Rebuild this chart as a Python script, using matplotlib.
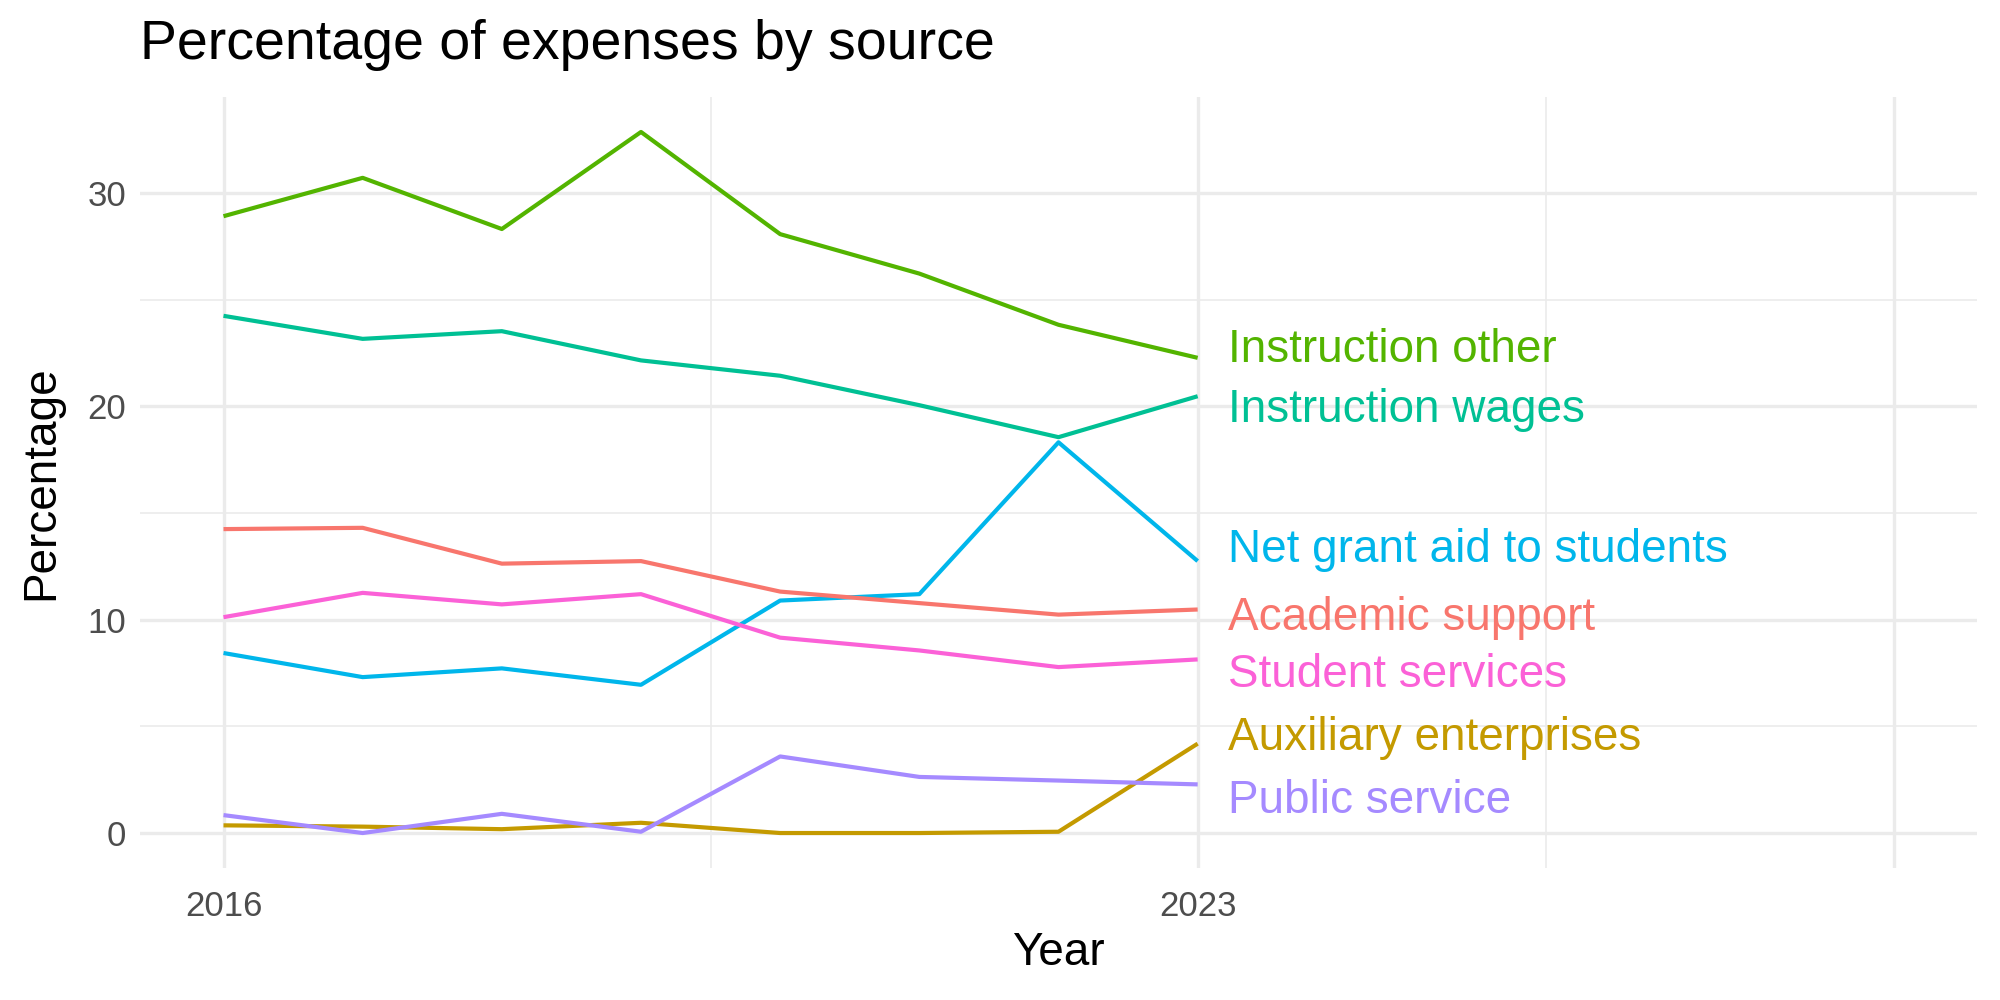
import matplotlib
matplotlib.use("Agg")
import matplotlib.pyplot as plt

years = [2016, 2017, 2018, 2019, 2020, 2021, 2022, 2023]
series_names = ["Instruction other", "Instruction wages", "Net grant aid to students",
                "Academic support", "Student services", "Auxiliary enterprises", "Public service"]
instruction_other = [28.92, 30.72, 28.32, 32.87, 28.08, 26.23, 23.83, 22.28]
instruction_wages = [24.25, 23.17, 23.53, 22.16, 21.44, 20.06, 18.56, 20.48]
net_grant_aid = [8.44, 7.31, 7.72, 6.95, 10.90, 11.20, 18.32, 12.75]
academic_support = [14.25, 14.31, 12.63, 12.75, 11.32, 10.78, 10.24, 10.48]
student_services = [10.12, 11.26, 10.72, 11.20, 9.16, 8.56, 7.78, 8.14]
auxiliary_enterprises = [0.36, 0.30, 0.18, 0.48, 0.00, 0.00, 0.06, 4.19]
public_service = [0.84, 0.00, 0.90, 0.06, 3.59, 2.63, 2.46, 2.28]
label_y = [22.07, 19.25, 12.72, 9.53, 6.85, 3.90, 0.94]
x_ticks = [2016, 2023, 2028]
x_tick_labels = ["2016", "2023", ""]
y_ticks = [0, 10, 20, 30]

colors = ["#53B400", "#00C094", "#00B6EB", "#F8766D", "#FB61D7", "#C49A00", "#A58AFF"]
values = [instruction_other, instruction_wages, net_grant_aid, academic_support,
          student_services, auxiliary_enterprises, public_service]

plt.rcParams['font.family'] = ['Liberation Sans', 'DejaVu Sans']

fig = plt.figure(figsize=(10, 5), dpi=200)
ax = fig.add_axes([0.07, 0.132, 0.9185, 0.771])

grid_c = "#EBEBEB"
for yv in [5, 15, 25]:
    ax.axhline(yv, color=grid_c, lw=0.6, zorder=0)
for yv in y_ticks:
    ax.axhline(yv, color=grid_c, lw=1.2, zorder=0)
for xv in [2019.5, 2025.5]:
    ax.axvline(xv, color=grid_c, lw=0.6, zorder=0)
for xv in x_ticks:
    ax.axvline(xv, color=grid_c, lw=1.2, zorder=0)

for name, vals, c, ly in zip(series_names, values, colors, label_y):
    ax.plot(years, vals, color=c, lw=1.5, zorder=2, solid_capstyle='butt')
    ax.text(years[-1] + 0.22, ly, name, color=c, fontsize=16.5, va='baseline', ha='left')

ax.set_xlim(2015.4, 2028.6)
ax.set_ylim(-1.64, 34.51)
ax.set_xticks(x_ticks)
ax.set_xticklabels(x_tick_labels)
ax.set_yticks(y_ticks)
ax.tick_params(length=0, labelsize=12.5, labelcolor="#4D4D4D")
ax.tick_params(axis='x', pad=8)
ax.tick_params(axis='y', pad=5)
for s in ax.spines.values():
    s.set_visible(False)

ax.set_xlabel("Year", fontsize=16.5)
ax.set_ylabel("Percentage", fontsize=16.5)
ax.xaxis.set_label_coords(0.5, -0.082)
ax.yaxis.set_label_coords(-0.042, 0.5)
fig.text(0.07, 0.955, "Percentage of expenses by source", fontsize=20, va='center', ha='left')

fig.savefig("out.png", dpi=200, facecolor="white")
